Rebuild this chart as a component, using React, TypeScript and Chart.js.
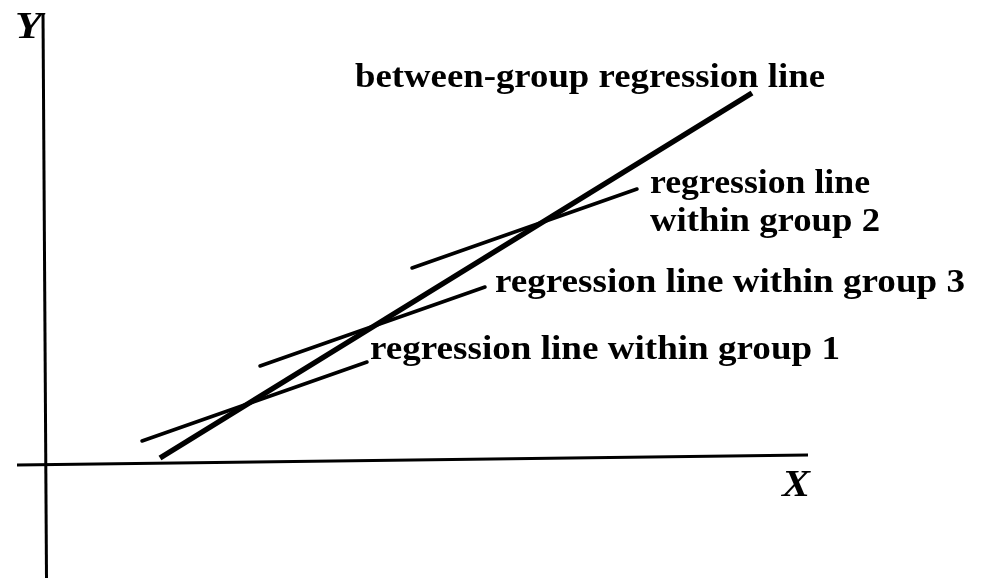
import React, { useEffect, useRef } from "react";
import { Chart, registerables } from "chart.js";

Chart.register(...registerables);

// Line endpoints in data units (origin at the axes crossing)
const betweenX = [2.32, 14.16];
const betweenY = [0.1, 7.4];
const group1X = [1.96, 6.46];
const group1Y = [0.44, 2.02];
const group3X = [4.32, 8.82];
const group3Y = [1.94, 3.52];
const group2X = [7.36, 11.86];
const group2Y = [3.9, 5.48];
const xAxisX = [-0.54, 15.28];
const xAxisY = [-0.04, 0.16];
const yAxisX = [-0.02, 0.05];
const yAxisY = [9.0, -2.3];

const labelBetween = "between-group regression line";
const labelGroup2 = ["regression line", "within group 2"];
const labelGroup3 = "regression line within group 3";
const labelGroup1 = "regression line within group 1";
const axisNameX = "X";
const axisNameY = "Y";

const pts = (xs: number[], ys: number[]) => xs.map((x, i) => ({ x, y: ys[i] }));

const textPlugin = {
  id: "texts",
  beforeDraw(chart: any) {
    const { ctx, width, height } = chart;
    ctx.save();
    ctx.fillStyle = "#ffffff";
    ctx.fillRect(0, 0, width, height);
    ctx.restore();
  },
  afterDraw(chart: any) {
    const ctx = chart.ctx as CanvasRenderingContext2D;
    const font = "bold 33px 'Liberation Serif', 'DejaVu Serif', serif";
    const draw = (t: string, x: number, y: number, w: number, f = font) => {
      ctx.save();
      ctx.font = f;
      ctx.fillStyle = "#000";
      ctx.textBaseline = "alphabetic";
      ctx.textAlign = "left";
      const m = ctx.measureText(t).width;
      ctx.translate(x, y);
      ctx.scale(w / m, 1);
      ctx.fillText(t, 0, 0);
      ctx.restore();
    };
    draw(labelBetween, 355, 87, 470);
    draw(labelGroup2[0], 650, 193, 220);
    draw(labelGroup2[1], 650, 231, 230);
    draw(labelGroup3, 495, 292, 470);
    draw(labelGroup1, 370, 359, 470);
    const ital = "bold italic 37px 'Liberation Serif', 'DejaVu Serif', serif";
    draw(axisNameY, 15, 38, 27, ital);
    draw(axisNameX, 782, 496, 28, ital);
  },
};

export default function App() {
  const ref = useRef<HTMLCanvasElement>(null);
  useEffect(() => {
    document.body.style.margin = "0";
    if (!ref.current) return;
    const mk = (xs: number[], ys: number[], w: number, cap: any) => ({
      data: pts(xs, ys),
      borderColor: "#000",
      borderWidth: w,
      borderCapStyle: cap,
      pointRadius: 0,
      showLine: true,
      fill: false,
      tension: 0,
    });
    const chart = new Chart(ref.current, {
      type: "scatter",
      data: {
        datasets: [
          mk(xAxisX, xAxisY, 3, "butt"),
          mk(yAxisX, yAxisY, 3, "butt"),
          mk(group1X, group1Y, 3.5, "round"),
          mk(group3X, group3Y, 3.5, "round"),
          mk(group2X, group2Y, 3.5, "round"),
          mk(betweenX, betweenY, 5.5, "butt"),
        ] as any,
      },
      options: {
        animation: false,
        responsive: false,
        devicePixelRatio: 1,
        layout: { padding: 0, autoPadding: false } as any,
        plugins: { legend: { display: false }, tooltip: { enabled: false } },
        events: [],
        scales: {
          x: { type: "linear", min: -0.88, max: 18.78, display: false },
          y: { type: "linear", min: -2.34, max: 9.26, display: false },
        },
      },
      plugins: [textPlugin],
    });
    return () => chart.destroy();
  }, []);
  return (
    <div style={{ width: 983, height: 580 }}>
      <canvas ref={ref} width={983} height={580} />
    </div>
  );
}
